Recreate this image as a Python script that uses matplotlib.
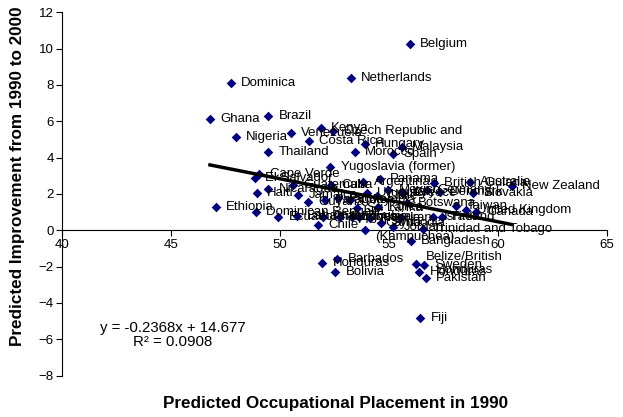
import numpy as np
import matplotlib
matplotlib.use("Agg")
import matplotlib.pyplot as plt

plt.rcParams['font.family'] = ['Liberation Sans', 'DejaVu Sans']

# Country labels and predicted values
countries = [
    "Belgium", "Netherlands", "Dominica", "Ghana", "Brazil", "Nigeria",
    "Venezuela", "Kenya", "Costa Rica", "Czech Republic and", "Hungary",
    "Malaysia", "Morocco", "Spain", "Thailand", "Yugoslavia (former)",
    "Cape Verde", "El Salvador", "Haiti", "Nicaragua", "Guatemala", "Cuba",
    "Argentina", "Panama", "British Guiana", "Australia", "New Zealand",
    "Uruguay", "Chile", "Mexico", "Italy", "Greece", "Germany", "Denmark",
    "Slovakia", "Jamaica", "Guyana", "Paraguay", "Peru", "Colombia",
    "Sri Lanka", "Korea", "Botswana", "Taiwan", "United Kingdom", "Canada",
    "Israel", "Finland", "Ethiopia", "Dominican Republic", "Ecuador",
    "Bahamas", "Chile", "Philippines", "Indonesia", "Egypt", "Tunisia",
    "Algeria", "Syria", "Jordan", "Iran", "Trinidad and Tobago",
    "Cambodia\n(Kampuchea)", "Bangladesh", "Honduras", "Barbados", "Bolivia",
    "Belize/British\nHonduras", "Sweden", "Honduras", "Pakistan", "Fiji",
]
placement_1990 = [
    55.96, 53.26, 47.74, 46.79, 49.46, 47.97,
    50.50, 51.88, 51.33, 52.45, 53.90,
    55.58, 53.44, 55.17, 49.46, 52.32,
    49.05, 48.85, 48.93, 49.46, 50.60, 52.34,
    53.82, 54.59, 57.06, 58.72, 60.65,
    53.98, 54.44, 54.97, 55.58, 55.66, 56.73, 57.34,
    58.87, 50.84, 51.27, 52.06, 52.68, 53.21,
    53.52, 54.51, 55.83, 58.10, 58.56, 59.02,
    57.03, 57.42, 47.06, 48.90, 49.92,
    50.77, 51.76, 51.99, 52.75, 53.29, 53.64,
    54.13, 54.66, 55.19, 55.50, 56.55,
    53.90, 56.01, 51.94, 52.62, 52.55,
    56.23, 56.62, 56.40, 56.69, 56.43,
]
improvement = [
    10.24, 8.40, 8.09, 6.11, 6.31, 5.15,
    5.34, 5.61, 4.91, 5.45, 4.73,
    4.57, 4.29, 4.20, 4.29, 3.50,
    3.10, 2.86, 2.07, 2.26, 2.49, 2.49,
    2.67, 2.81, 2.61, 2.64, 2.45,
    2.04, 1.89, 2.22, 2.13, 2.04, 2.22, 2.13,
    2.07, 1.94, 1.56, 1.67, 1.76, 1.67,
    1.21, 1.30, 1.50, 1.34, 1.12, 1.02,
    0.75, 0.75, 1.30, 0.99, 0.72,
    0.79, 0.29, 0.75, 0.75, 0.75, 0.72,
    0.66, 0.39, 0.20, 0.66, 0.05,
    0.00, -0.60, -1.78, -1.59, -2.29,
    -1.83, -1.89, -2.30, -2.62, -4.84,
]

# Excel linear trendline shown on the chart
slope = -0.2368
intercept = 14.677
r_squared = 0.0908

fig = plt.figure(figsize=(6.23, 4.17), dpi=100)
ax = fig.add_axes([0.0995, 0.0993, 0.8745, 0.8712])

ax.scatter(placement_1990, improvement, marker='D', s=24, color='#000080',
           zorder=3, linewidths=0)
for name, x, y in zip(countries, placement_1990, improvement):
    ax.annotate(name, (x, y), xytext=(7.5, 0), textcoords='offset points',
                va='center', ha='left', fontsize=9.5, multialignment='center',
                zorder=4)

xs = np.array([min(placement_1990), max(placement_1990)])
ax.plot(xs, slope * xs + intercept, color='black', lw=2.5, zorder=5)

# trendline equation, two separate lines like the Excel label
ax.text(45.07, -5.39, f"y = {slope}x + {intercept}",
        ha='center', va='center', fontsize=10.8)
ax.text(45.07, -6.13, f"R² = {r_squared}",
        ha='center', va='center', fontsize=10.8)

ax.set_xlim(40, 65)
ax.set_ylim(-8, 12)
ax.set_xticks([40, 45, 50, 55, 60, 65])
ax.set_yticks(range(-8, 13, 2))
ax.spines['top'].set_visible(False)
ax.spines['right'].set_visible(False)
ax.spines['bottom'].set_position(('data', 0))
for s in ('left', 'bottom'):
    ax.spines[s].set_linewidth(0.8)
ax.tick_params(axis='both', labelsize=9.5, length=4, width=0.8, pad=2)

ax.set_xlabel("Predicted Occupational Placement in 1990", fontsize=12.3,
              fontweight='bold')
ax.set_ylabel("Predicted Improvement from 1990 to 2000", fontsize=12.3,
              fontweight='bold')
ax.xaxis.set_label_coords(0.503, -0.057)
ax.yaxis.set_label_coords(-0.068, 0.549)

fig.savefig("out.png", dpi=100)
